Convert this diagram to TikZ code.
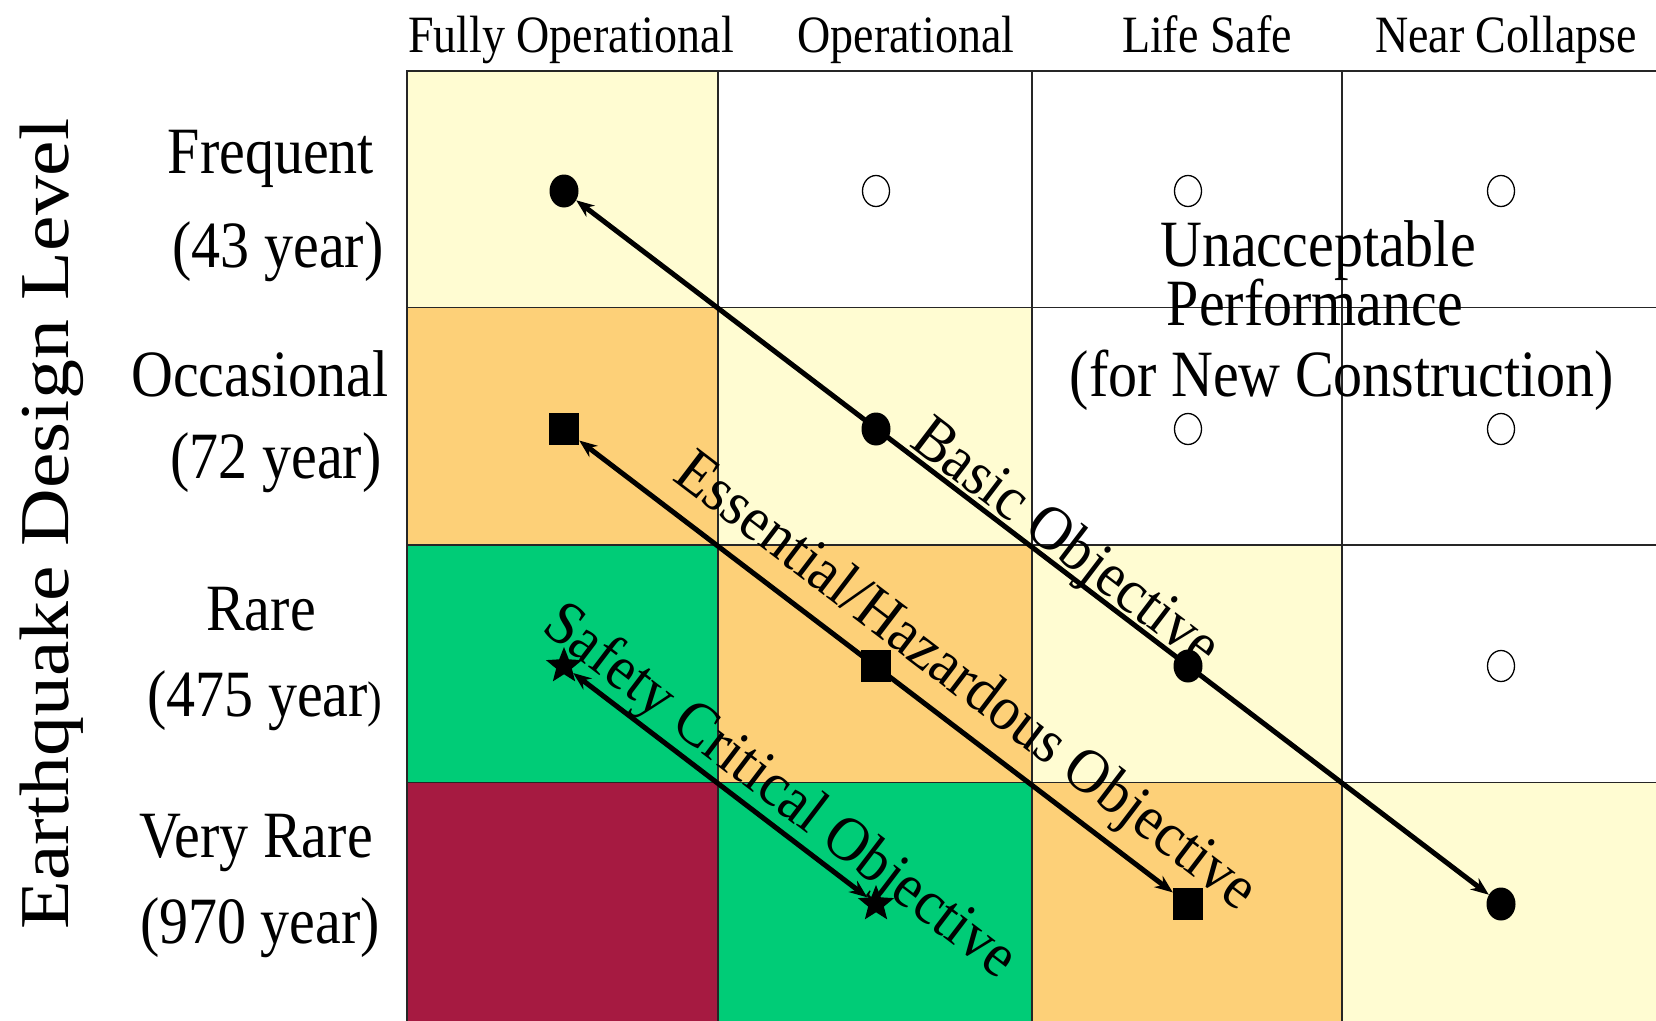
\documentclass[tikz,border=0pt]{standalone}
\usepackage{fontspec}
\usepackage{graphicx}
\setmainfont{Liberation Serif}
\usetikzlibrary{shapes.geometric,arrows.meta,calc}
\definecolor{cyel}{HTML}{FFFCD2}
\definecolor{corg}{HTML}{FDD078}
\definecolor{cgrn}{HTML}{00CC77}
\definecolor{cred}{HTML}{A61A41}
\newcommand{\vstr}[1]{\scalebox{1}[1.14]{#1}}
\newcommand{\dstr}[1]{\scalebox{1}[1.08]{#1}}
\begin{document}
\begin{tikzpicture}[x=1pt,y=-1pt,
  gridline/.style={line width=1.4pt, draw=black!85},
  border/.style={line width=2.6pt, draw=black!85},
  colhead/.style={font=\fontsize{46}{46}\selectfont, inner sep=0, anchor=base},
  rowlab/.style={font=\fontsize{58}{58}\selectfont, inner sep=0, anchor=base},
  biglab/.style={font=\fontsize{58}{58}\selectfont, inner sep=0, anchor=base},
  objlab/.style={font=\fontsize{58}{58}\selectfont, inner sep=0, anchor=base, rotate=-37.3},
  fcirc/.style={ellipse, fill=black, minimum width=29pt, minimum height=33pt, inner sep=0},
  ocirc/.style={ellipse, draw=black, line width=1.3pt, minimum width=27pt, minimum height=31pt, inner sep=0},
  fsq/.style={rectangle, fill=black, minimum width=30pt, minimum height=32pt, inner sep=0},
  fstar/.style={star, star points=5, star point ratio=2.3, fill=black, minimum size=38pt, inner sep=0},
  objline/.style={line width=5pt, {Stealth[length=18pt,width=14pt]}-{Stealth[length=18pt,width=14pt]}}
]
\useasboundingbox (0,0) rectangle (1656,1020);
\clip (0,0) rectangle (1656,1020);
% cell fills
\fill[cyel] (407,71) rectangle (718,307.5);
\fill[corg] (407,307.5) rectangle (718,545);
\fill[cyel] (718,307.5) rectangle (1032,545);
\fill[cgrn] (407,545) rectangle (718,782.5);
\fill[corg] (718,545) rectangle (1032,782.5);
\fill[cyel] (1032,545) rectangle (1342,782.5);
\fill[cred] (407,782.5) rectangle (718,1030);
\fill[cgrn] (718,782.5) rectangle (1032,1030);
\fill[corg] (1032,782.5) rectangle (1342,1030);
\fill[cyel] (1342,782.5) rectangle (1670,1030);
% grid
\draw[gridline] (407,307.5) -- (1670,307.5);
\draw[gridline] (407,545) -- (1670,545);
\draw[gridline] (407,782.5) -- (1670,782.5);
\draw[gridline] (718,71) -- (718,1030);
\draw[gridline] (1032,71) -- (1032,1030);
\draw[gridline] (1342,71) -- (1342,1030);
\draw[border] (407,1030) -- (407,71) -- (1670,71);
% column headings
\node[colhead] (h1) at (571,52) {\vstr{Fully Operational}};
\node[colhead] (h2) at (906,52) {\vstr{Operational}};
\node[colhead] (h3) at (1207,52) {\vstr{Life Safe}};
\node[colhead] (h4) at (1506,52) {\vstr{Near Collapse}};
% axis label
\node[font=\fontsize{70}{70}\selectfont, rotate=90, anchor=base, inner sep=0] (axis) at (68,524) {\scalebox{1.14}[1]{Earthquake Design Level}};
% row labels
\node[rowlab] (r1a) at (271,173) {\vstr{Frequent}};
\node[rowlab] (r1b) at (278,267) {\vstr{(43 year)}};
\node[rowlab] (r2a) at (260,396) {\vstr{Occasional}};
\node[rowlab] (r2b) at (276,478) {\vstr{(72 year)}};
\node[rowlab] (r3a) at (261,630) {\vstr{Rare}};
\node[rowlab] (r3b) at (265,716) {\vstr{(475 year{\fontsize{44}{44}\selectfont)}}};
\node[rowlab] (r4a) at (256,857) {\vstr{Very Rare}};
\node[rowlab] (r4b) at (260,943) {\vstr{(970 year)}};
% unacceptable text
\node[biglab] (u1) at (1318,266) {\vstr{Unacceptable}};
\node[biglab] (u2) at (1315,325) {\vstr{Performance}};
\node[biglab] (u3) at (1342,396.5) {\vstr{(for New Construction)}};
% markers
\node[fcirc] (b1) at (564,191) {};
\node[ocirc] (o12) at (876,191) {};
\node[ocirc] (o13) at (1188,191) {};
\node[ocirc] (o14) at (1501,191) {};
\node[fsq] (e1) at (564,429) {};
\node[fcirc] (b2) at (876,429) {};
\node[ocirc] (o23) at (1188,429) {};
\node[ocirc] (o24) at (1501,429) {};
\node[fstar] (s1) at (564,666) {};
\node[fsq] (e2) at (876,666) {};
\node[fcirc] (b3) at (1188,666) {};
\node[ocirc] (o34) at (1501,666) {};
\node[fstar] (s2) at (876,904) {};
\node[fsq] (e3) at (1188,904) {};
\node[fcirc] (b4) at (1501,904) {};
% objective lines
\draw[objline] (b1) -- (b4);
\draw[objline] (e1) -- (e3);
\draw[objline] (s1) -- (s2);
% objective labels
\node[objlab] (lb) at ($(b1.center)!0.52!(b4.center)!6pt!90:(b4.center)$) {\dstr{Basic Objective}};
\node[objlab] (le) at ($(e1.center)!0.603!(e3.center)!25pt!90:(e3.center)$) {\dstr{Essential/Hazardous Objective}};
\node[objlab] (ls) at ($(s1.center)!0.631!(s2.center)!14pt!90:(s2.center)$) {\dstr{Safety Critical Objective}};
\end{tikzpicture}
\end{document}
